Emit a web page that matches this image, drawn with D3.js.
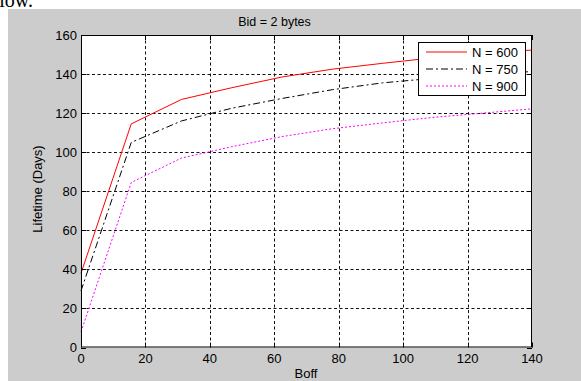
<!DOCTYPE html>
<html>
<head>
<meta charset="utf-8">
<script src="https://cdn.jsdelivr.net/npm/d3@7"></script>
<style>
  body { margin: 0; background: #fff; }
  svg { display: block; }
  text { font-family: "Liberation Sans", Arial, sans-serif; fill: #000; }
</style>
</head>
<body>
<script>
// Boff values where each curve was sampled
const boff = [0, 15.6, 31.2, 46.8, 62.4, 78, 93.6, 109.2, 124.8, 140]

// lifetime (days) per node count
const n600 = [38, 114.5, 127, 133, 138.5, 142.5, 145.5, 148.3, 150.5, 152.3]
const n750 = [29, 105, 116, 122.5, 127.5, 132, 135.5, 137.8, 139.6, 141.3]
const n900 = [8, 84.5, 97, 102.8, 108, 112, 115, 117.8, 120, 122.2]

const seriesNames = ['N = 600', 'N = 750', 'N = 900']
const xTicks = [0, 20, 40, 60, 80, 100, 120, 140]
const yTicks = [0, 20, 40, 60, 80, 100, 120, 140, 160]

const width = 581
const height = 381
const plot = {left: 81, right: 532, top: 35, bottom: 347.5}

const svg = d3.select('body').append('svg').attr('width', width).attr('height', height)

// clipped sentence from the page above the figure
svg.append('text').attr('x', 33).attr('y', 7).attr('text-anchor', 'end')
	.style('font-family', '"Liberation Serif", serif').style('font-size', '20px')
	.text('below.')

// figure background
svg.append('rect').attr('x', 8).attr('y', 9).attr('width', width - 8).attr('height', height - 9).attr('fill', '#cccccc')

const x = d3.scaleLinear().domain([0, 140]).range([plot.left, plot.right])
const y = d3.scaleLinear().domain([0, 160]).range([plot.bottom, plot.top])

svg.append('rect').attr('x', plot.left).attr('y', plot.top)
	.attr('width', plot.right - plot.left).attr('height', plot.bottom - plot.top).attr('fill', '#fff')

// dotted grid
const grid = svg.append('g').attr('stroke', '#111').attr('stroke-width', 1).attr('stroke-dasharray', '3,2.5')
grid.selectAll('.vg').data(xTicks.slice(1, -1)).enter().append('line')
	.attr('x1', d => Math.round(x(d)) + 0.5).attr('x2', d => Math.round(x(d)) + 0.5)
	.attr('y1', plot.top).attr('y2', plot.bottom)
grid.selectAll('.hg').data(yTicks.slice(1, -1)).enter().append('line')
	.attr('y1', d => Math.round(y(d)) + 0.5).attr('y2', d => Math.round(y(d)) + 0.5)
	.attr('x1', plot.left).attr('x2', plot.right)

// curves
const line = (vals) => d3.line().x((d, i) => x(boff[i])).y(d => y(d))(vals)
const styles = [
	{data: n600, color: '#ff0000', dash: null},
	{data: n750, color: '#000000', dash: '7,3,2,3'},
	{data: n900, color: '#ff00ff', dash: '2,2'}
]
svg.selectAll('.curve').data(styles).enter().append('path')
	.attr('class', 'curve')
	.attr('d', d => line(d.data))
	.attr('fill', 'none')
	.attr('stroke', d => d.color)
	.attr('stroke-width', 1)
	.attr('stroke-dasharray', d => d.dash)

// axes box with inward ticks
const box = svg.append('g').attr('stroke', '#000').attr('stroke-width', 1)
box.append('rect').attr('x', plot.left + 0.5).attr('y', plot.top + 0.5)
	.attr('width', plot.right - plot.left - 1).attr('height', plot.bottom - plot.top - 1).attr('fill', 'none')
xTicks.forEach(t => {
	const px = Math.round(x(t)) + 0.5
	box.append('line').attr('x1', px).attr('x2', px).attr('y1', plot.bottom).attr('y2', plot.bottom - 5)
	box.append('line').attr('x1', px).attr('x2', px).attr('y1', plot.top).attr('y2', plot.top + 5)
})
yTicks.forEach(t => {
	const py = Math.round(y(t)) + 0.5
	box.append('line').attr('y1', py).attr('y2', py).attr('x1', plot.left).attr('x2', plot.left + 5)
	box.append('line').attr('y1', py).attr('y2', py).attr('x1', plot.right).attr('x2', plot.right - 5)
})

// tick labels
svg.selectAll('.xl').data(xTicks).enter().append('text')
	.attr('x', d => x(d)).attr('y', 363).attr('text-anchor', 'middle')
	.style('font-size', '13px').text(d => d)
svg.selectAll('.yl').data(yTicks).enter().append('text')
	.attr('x', 77).attr('y', d => y(d)).attr('dy', '0.35em').attr('text-anchor', 'end')
	.style('font-size', '13px').text(d => d)

// titles
svg.append('text').attr('x', 274.5).attr('y', 26).attr('text-anchor', 'middle')
	.style('font-size', '12.5px').text('Bid = 2 bytes')
svg.append('text').attr('x', 306).attr('y', 378).attr('text-anchor', 'middle')
	.style('font-size', '13px').text('Boff')
svg.append('text').attr('transform', 'translate(42,189) rotate(-90)').attr('text-anchor', 'middle')
	.style('font-size', '13px').text('Lifetime (Days)')

// legend
const legend = svg.append('g')
legend.append('rect').attr('x', 418.5).attr('y', 42.5).attr('width', 107).attr('height', 53)
	.attr('fill', '#fff').attr('stroke', '#000')
const ly = [52, 69, 86]
styles.forEach((s, i) => {
	legend.append('line').attr('x1', 426).attr('x2', 467).attr('y1', ly[i]).attr('y2', ly[i])
		.attr('stroke', s.color).attr('stroke-dasharray', s.dash)
	legend.append('text').attr('x', 472).attr('y', ly[i]).attr('dy', '0.35em')
		.style('font-size', '13px').text(seriesNames[i])
})
</script>
</body>
</html>
